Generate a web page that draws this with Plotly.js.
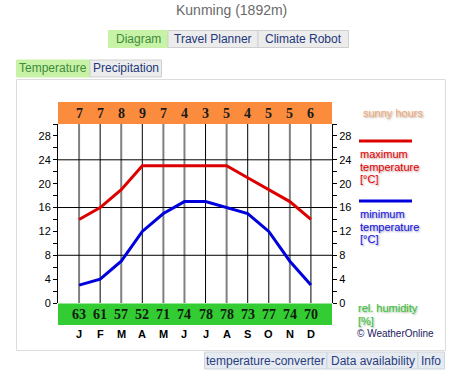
<!DOCTYPE html>
<html>
<head>
<meta charset="utf-8">
<script src="https://cdn.plot.ly/plotly-3.0.1.min.js"></script>
<style>
html,body{margin:0;padding:0;background:#fff;}
#chart{width:464px;height:381px;}
</style>
</head>
<body>
<div id="chart"></div>
<script>
// ---- data ----
var months = ['J','F','M','A','M','J','J','A','S','O','N','D'];
var maxTemp = [14, 16, 19, 23, 23, 23, 23, 23, 21, 19, 17, 14];
var minTemp = [3, 4, 7, 12, 15, 17, 17, 16, 15, 12, 7, 3];
var sunnyHours = [7, 7, 8, 9, 7, 4, 3, 5, 4, 5, 5, 6];
var humidity = [63, 61, 57, 52, 71, 74, 78, 78, 73, 77, 74, 70];
var yTickLabels = ['0','4','8','12','16','20','24','28'];

// ---- geometry helpers (pixel -> paper) ----
var L = 58, R = 332, T = 124, B = 303;
function px(x){ return (x - L) / (R - L); }
function py(y){ return (B - y) / (B - T); }

var idx = months.map(function(_, i){ return i; });
var gridStyle = ['#808080','#000','#808080','#000','#808080','#808080','#000','#808080','#000','#000','#808080','#000'];

var shapes = [];
var annotations = [];

// outer container
shapes.push({type:'rect', xref:'paper', yref:'paper', x0:px(16.5), x1:px(445.5), y0:py(79.5), y1:py(350.5),
  line:{color:'#dcdcdc', width:1}, fillcolor:'rgba(0,0,0,0)', layer:'below'});

// bands
shapes.push({type:'rect', xref:'paper', yref:'paper', x0:0, x1:1, y0:py(124), y1:py(102),
  line:{width:0}, fillcolor:'#fb8c3e', layer:'below'});
shapes.push({type:'rect', xref:'paper', yref:'paper', x0:0, x1:1, y0:py(325), y1:py(303.5),
  line:{width:0}, fillcolor:'#33cc33', layer:'below'});

// vertical month lines
idx.forEach(function(i){
  shapes.push({type:'line', xref:'x', yref:'paper', x0:i, x1:i, y0:0, y1:1,
    line:{color:gridStyle[i], width: gridStyle[i]==='#000'?1:2}, layer:'below'});
});
// horizontal lines
[8,16,24].forEach(function(v){
  shapes.push({type:'line', xref:'paper', yref:'y', x0:0, x1:1, y0:v, y1:v,
    line:{color:'#000', width:1}, layer:'below'});
});

// band values
idx.forEach(function(i){
  annotations.push({xref:'x', yref:'paper', x:i, y:py(114), text:'<b>'+sunnyHours[i]+'</b>', showarrow:false,
    font:{family:'Liberation Serif, Times New Roman, serif', size:14, color:'#1a1a1a'}, xanchor:'center', yanchor:'middle'});
  annotations.push({xref:'x', yref:'paper', x:i, y:py(314.5), text:'<b>'+humidity[i]+'</b>', showarrow:false,
    font:{family:'Liberation Serif, Times New Roman, serif', size:14, color:'#111a11'}, xanchor:'center', yanchor:'middle'});
  annotations.push({xref:'x', yref:'paper', x:i, y:py(334), text:'<b>'+months[i]+'</b>', showarrow:false,
    font:{family:'Liberation Sans, Arial, sans-serif', size:11, color:'#000'}, xanchor:'center', yanchor:'middle'});
});

// buttons
function button(x0, x1, y0, y1, text, bg, fg, border){
  shapes.push({type:'rect', xref:'paper', yref:'paper', x0:px(x0), x1:px(x1), y0:py(y1), y1:py(y0),
    line:{color:border, width:1}, fillcolor:bg, layer:'below'});
  annotations.push({xref:'paper', yref:'paper', x:px((x0+x1)/2), y:py((y0+y1)/2), text:text, showarrow:false,
    font:{family:'Liberation Sans, Arial, sans-serif', size:12, color:fg}, xanchor:'center', yanchor:'middle'});
}
button(108.5, 168, 30.5, 47.5, 'Diagram', '#c8f2a6', '#3d8b3d', '#c8f2a6');
button(168, 258, 30.5, 47.5, 'Travel Planner', '#ececec', '#23377a', '#cfcfcf');
button(258, 348.5, 30.5, 47.5, 'Climate Robot', '#ececec', '#23377a', '#cfcfcf');
button(16.5, 90, 60, 77, 'Temperature', '#c8f2a6', '#3d8b3d', '#c8f2a6');
button(90, 161.5, 60, 77, 'Precipitation', '#ececec', '#23377a', '#cfcfcf');
button(204.5, 327, 352, 369, 'temperature-converter', '#e6ebf1', '#2a3d80', '#cfd5dc');
button(327, 418, 352, 369, 'Data availability', '#e6ebf1', '#2a3d80', '#cfd5dc');
button(418, 444.5, 352, 369, 'Info', '#e6ebf1', '#2a3d80', '#cfd5dc');

// title
annotations.push({xref:'paper', yref:'paper', x:px(231), y:py(10), text:'Kunming (1892m)', showarrow:false,
  font:{family:'Liberation Sans, Arial, sans-serif', size:14, color:'#6a6a6a'}, xanchor:'center', yanchor:'middle'});

// legend (one annotation per line to get tight line spacing)
var lf = 'Liberation Sans, Arial, sans-serif';
function legendLines(lines, x, y0, step, color, shadow){
  lines.forEach(function(t, k){
    annotations.push({xref:'paper', yref:'paper', x:px(x), y:py(y0 + k*step), text:t, showarrow:false,
      font:{family:lf, size:11, color:color, shadow:shadow}, xanchor:'left', yanchor:'middle'});
  });
}
legendLines(['sunny hours'], 361, 113, 0, '#f0a878', '1px 1px 2px #b0a090');
shapes.push({type:'line', xref:'paper', yref:'paper', x0:px(359), x1:px(412), y0:py(141), y1:py(141),
  line:{color:'#dd0000', width:3}});
legendLines(['maximum','temperature','[°C]'], 358, 154, 12.7, '#e00000', '1px 1px 2px #c09090');
shapes.push({type:'line', xref:'paper', yref:'paper', x0:px(359), x1:px(412), y0:py(201), y1:py(201),
  line:{color:'#0000dd', width:3}});
legendLines(['minimum','temperature','[°C]'], 358, 214, 12.7, '#1010dd', '1px 1px 2px #9090c0');
legendLines(['rel. humidity','[%]'], 356, 308, 12.5, '#33bb33', '1px 1px 2px #90b090');
annotations.push({xref:'paper', yref:'paper', x:px(355), y:py(333.5), text:'© WeatherOnline', showarrow:false,
  font:{family:lf, size:10, color:'#1a2060'}, xanchor:'left', yanchor:'middle'});

// y ticks every 2, labels every 4
var yTickVals = [], yTickText = [];
for (var v = 0; v <= 30; v += 2) {
  yTickVals.push(v);
  yTickText.push(v % 4 === 0 && v <= 28 ? yTickLabels[v/4] : '');
}

var traces = [
  {x: idx, y: maxTemp, type:'scatter', mode:'lines', line:{color:'#dd0000', width:3}, hoverinfo:'skip', yaxis:'y'},
  {x: idx, y: minTemp, type:'scatter', mode:'lines', line:{color:'#0000dd', width:3}, hoverinfo:'skip', yaxis:'y2'}
];

var yax = {
  range:[0,30], tickvals:yTickVals, ticktext:yTickText, ticks:'outside', ticklen:4, tickcolor:'#000',
  showline:true, linecolor:'#000', linewidth:1, showgrid:false, zeroline:false, fixedrange:true,
  tickfont:{family:'Liberation Sans, Arial, sans-serif', size:11, color:'#000'}
};
var yax2 = JSON.parse(JSON.stringify(yax));
yax2.overlaying = 'y'; yax2.side = 'right';

var layout = {
  width:464, height:381,
  margin:{l:L, r:464-R, t:T, b:381-B, pad:0},
  paper_bgcolor:'#fff', plot_bgcolor:'rgba(0,0,0,0)',
  showlegend:false,
  xaxis:{range:[-1,12], showticklabels:false, ticks:'', showgrid:false, zeroline:false, showline:false, fixedrange:true},
  yaxis:yax, yaxis2:yax2,
  shapes:shapes, annotations:annotations
};

Plotly.newPlot('chart', traces, layout, {displayModeBar:false, staticPlot:true});
</script>
</body>
</html>
